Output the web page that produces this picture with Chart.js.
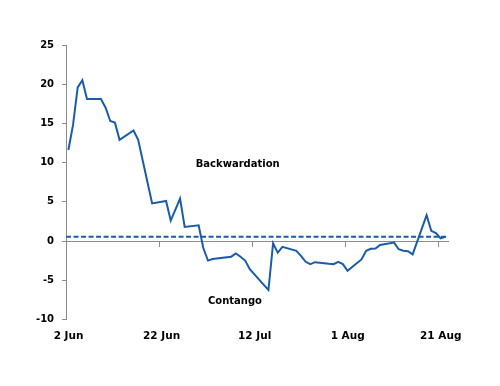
<!DOCTYPE html>
<html>
<head>
<meta charset="utf-8">
<script src="https://cdn.jsdelivr.net/npm/chart.js@4/dist/chart.umd.min.js"></script>
<style>
  html, body { margin: 0; padding: 0; background: #ffffff; }
  #wrap { width: 500px; height: 386px; }
</style>
</head>
<body>
<div id="wrap"><canvas id="c" width="500" height="386"></canvas></div>
<script>
// Business-day offsets from 2 Jun
const dayOffsets = [0,1,2,3,4, 7,8,9,10,11, 14,15,16,17,18, 21,22,23,24,25, 28,29,30,31, 35,36,37,38,39, 42,43,44,45,46, 49,50,51,52,53, 56,57,58,59,60, 63,64,65,66,67, 70,71,72,73,74, 77,78,79,80,81];
const spreadValues = [11.6,14.8,19.6,20.5,18.1, 18.1,17.0,15.3,15.1,12.9, 14.1,12.9,10.2,7.5,4.8, 5.1,2.6,4.0,5.4,1.8, 2.0,-0.9,-2.5,-2.3, -2.0,-1.6,-2.0,-2.5,-3.6, -5.6,-6.25,-0.3,-1.5,-0.75, -1.25,-1.9,-2.65,-2.95,-2.7, -2.9,-2.95,-2.65,-2.95,-3.8, -2.35,-1.25,-1.0,-0.95,-0.5, -0.2,-1.05,-1.25,-1.3,-1.7, 3.3,1.3,1.0,0.35,0.55];
const referenceLevel = 0.55;
const tickLabels = ['2 Jun', '22 Jun', '12 Jul', '1 Aug', '21 Aug'];
const tickOffsets = [-0.5, 19.5, 39.5, 59.5, 79.5];
const yTickValues = [25, 20, 15, 10, 5, 0, -5, -10];
const annotations = [
  { text: 'Backwardation', x: 36.4, y: 9.8 },
  { text: 'Contango', x: 35.8, y: -7.75 }
];

const X_MIN = -0.5, X_MAX = 81.6;
const BLUE = '#1a5ca8';
const GREY = '#8c8c8c';

Chart.defaults.font.family = "'DejaVu Sans', sans-serif";
Chart.defaults.font.size = 10;
Chart.defaults.font.weight = 'bold';
Chart.defaults.color = '#000000';

const setTicks = function (scale) {
  scale.ticks = tickOffsets.map(v => ({ value: v }));
};

const annotationPlugin = {
  id: 'annot',
  afterDatasetsDraw(chart) {
    const ctx = chart.ctx;
    const xs = chart.scales.x, ys = chart.scales.y;
    ctx.save();
    ctx.font = "bold 10px 'DejaVu Sans', sans-serif";
    ctx.fillStyle = '#000000';
    ctx.textAlign = 'center';
    ctx.textBaseline = 'middle';
    annotations.forEach(a => {
      ctx.fillText(a.text, xs.getPixelForValue(a.x), ys.getPixelForValue(a.y));
    });
    ctx.restore();
  }
};

new Chart(document.getElementById('c'), {
  type: 'line',
  data: {
    datasets: [
      {
        label: 'Spread',
        data: dayOffsets.map((d, i) => ({ x: d, y: spreadValues[i] })),
        borderColor: BLUE,
        borderWidth: 2,
        pointRadius: 0,
        tension: 0,
        fill: false
      },
      {
        label: 'Reference',
        data: [{ x: X_MIN, y: referenceLevel }, { x: X_MAX, y: referenceLevel }],
        borderColor: BLUE,
        borderWidth: 2,
        borderDash: [5, 2.5],
        pointRadius: 0,
        tension: 0,
        fill: false
      }
    ]
  },
  options: {
    responsive: false,
    animation: false,
    devicePixelRatio: 1,
    layout: { padding: { left: 28, right: 52, top: 45, bottom: 32 } },
    plugins: { legend: { display: false }, tooltip: { enabled: false } },
    scales: {
      x: {
        type: 'linear',
        min: X_MIN,
        max: X_MAX,
        position: 'bottom',
        afterBuildTicks: setTicks,
        border: { display: false },
        grid: { display: false, drawTicks: false },
        ticks: {
          autoSkip: false,
          maxRotation: 0,
          padding: 11,
          labelOffset: 2.5,
          font: { size: 10.5, weight: 'bold' },
          callback: (v, i) => tickLabels[i]
        }
      },
      x2: {
        type: 'linear',
        min: X_MIN,
        max: X_MAX,
        position: { y: 0 },
        afterBuildTicks: setTicks,
        border: { display: true, color: GREY, width: 1 },
        grid: { display: true, drawOnChartArea: false, drawTicks: true, tickLength: 5, color: GREY },
        ticks: { display: false }
      },
      y: {
        type: 'linear',
        min: -10,
        max: 25,
        afterBuildTicks: function (scale) { scale.ticks = yTickValues.map(v => ({ value: v })); },
        border: { display: true, color: GREY, width: 1 },
        grid: { display: true, drawOnChartArea: false, drawTicks: true, tickLength: 4, color: GREY },
        ticks: { padding: 8, font: { size: 10, weight: 'bold' }, callback: v => String(v) }
      }
    }
  },
  plugins: [annotationPlugin]
});
</script>
</body>
</html>
